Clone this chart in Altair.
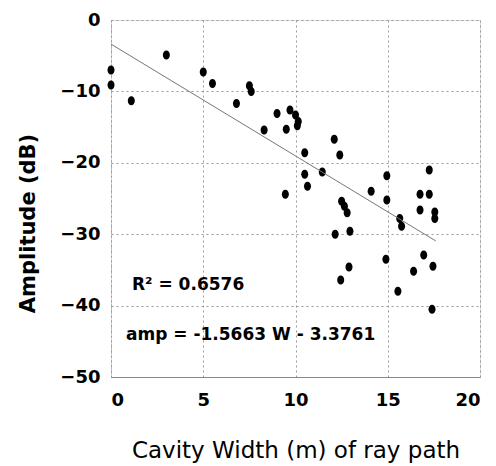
import altair as alt
import pandas as pd
import numpy as np

# Scatter data
width_m = [0.0, 0.0, 1.1, 3.0, 5.0, 5.5, 6.8, 7.5, 7.6, 9.0, 9.7, 10.0, 10.15, 10.1,
           8.3, 9.5, 12.1, 12.4, 10.5, 11.45, 10.5, 10.65, 9.45, 14.95, 17.25, 14.1,
           16.75, 17.25, 14.95, 12.5, 12.65, 12.8, 16.75, 15.65, 15.75, 17.55, 17.55,
           12.15, 12.95, 14.9, 16.95, 12.9, 17.45, 12.45, 16.4, 15.55, 17.4]
amp_db = [-7.0, -9.1, -11.3, -4.9, -7.3, -8.9, -11.7, -9.2, -10.0, -13.1, -12.6, -13.3,
          -14.2, -14.8, -15.4, -15.3, -16.7, -18.9, -18.6, -21.3, -21.6, -23.3, -24.4,
          -21.8, -21.0, -24.0, -24.4, -24.4, -25.2, -25.4, -26.1, -27.0, -26.6, -27.8,
          -28.9, -26.9, -27.8, -30.0, -29.6, -33.5, -32.9, -34.6, -34.5, -36.4, -35.2,
          -38.0, -40.5]

# Regression fit
slope = -1.5663
intercept = -3.3761
fit_range = [0.0, 17.6]
r2 = 0.6576

x_ticks = [0, 5, 10, 15, 20]
y_ticks = [0, -10, -20, -30, -40, -50]

pts = pd.DataFrame({"w": width_m, "amp": amp_db})
fit = pd.DataFrame({"w": fit_range})
fit["amp"] = slope * fit["w"] + intercept

xs = alt.Scale(domain=[0, 20], nice=False, zero=False)
ys = alt.Scale(domain=[-50, 0], nice=False, zero=False)

xax = alt.Axis(values=x_ticks, title="Cavity  Width (m) of ray path", ticks=False,
               labelPadding=14, labelFont="DejaVu Sans", labelFontWeight="bold",
               labelFontSize=18, labelColor="black", titleFont="DejaVu Sans",
               titleFontWeight="normal", titleFontSize=23, titleColor="black",
               titleY=62, domainColor="#888", domainWidth=1,
               grid=True, gridColor="#999", gridDash=[2, 3], gridWidth=1)
yax = alt.Axis(values=y_ticks, title="Amplitude (dB)", ticks=False, labelPadding=11,
               labelFont="DejaVu Sans", labelFontWeight="bold", labelFontSize=18,
               labelColor="black", titleFont="DejaVu Sans", titleFontWeight="bold",
               titleFontSize=21, titleColor="black", titleX=-73, titleY=203,
               domainColor="#999", domainDash=[1, 3], domainWidth=1,
               grid=True, gridColor="#999", gridDash=[2, 3], gridWidth=1)

ellipse = "M0,-1A0.78,1,0,1,1,0,1A0.78,1,0,1,1,0,-1Z"

points = alt.Chart(pts).mark_point(shape=ellipse, filled=True, color="black",
                                   opacity=1, size=81).encode(
    x=alt.X("w:Q", scale=xs, axis=xax),
    y=alt.Y("amp:Q", scale=ys, axis=yax),
)

line = alt.Chart(fit).mark_line(color="#777", strokeWidth=1).encode(
    x=alt.X("w:Q", scale=xs),
    y=alt.Y("amp:Q", scale=ys),
)

ann = pd.DataFrame({
    "t": [f"R\u00b2 = {r2:.4f}", f"amp = {slope:.4f} W - {abs(intercept):.4f}"],
    "px": [21, 15],
    "py": [265, 315],
})
text = alt.Chart(ann).mark_text(align="left", baseline="middle", font="DejaVu Sans",
                                fontWeight="bold", fontSize=17, color="black").encode(
    x=alt.X("px:Q", scale=None),
    y=alt.Y("py:Q", scale=None),
    text="t:N",
)

chart = alt.layer(points, line, text).properties(
    width=369, height=357,
    autosize=alt.AutoSizeParams(type="none"),
    padding={"left": 111, "top": 20, "right": 16, "bottom": 89},
).configure_view(stroke=None).configure(background="white")

chart.save("out.html", embed_options={"renderer": "svg", "actions": False})
